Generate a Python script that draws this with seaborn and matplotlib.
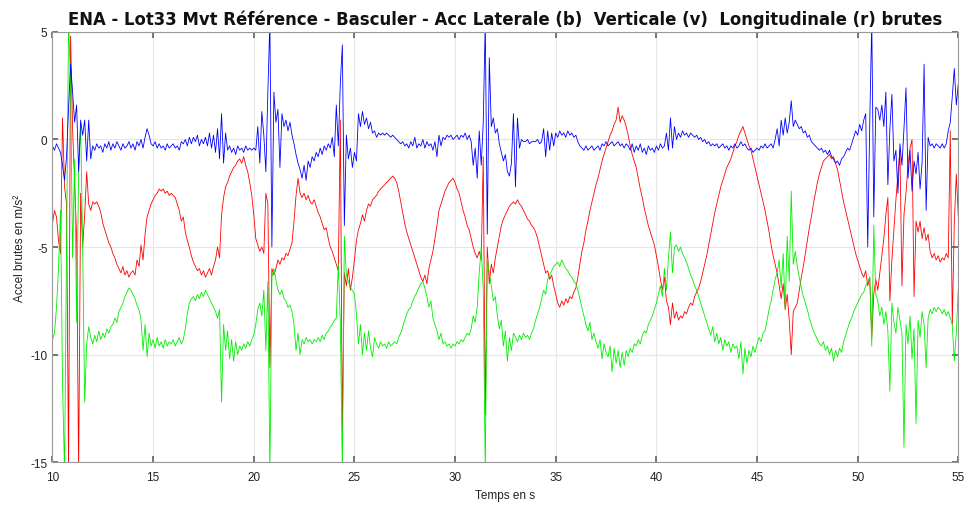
import numpy as np
import pandas as pd
import matplotlib
matplotlib.use("Agg")
import matplotlib.pyplot as plt
import seaborn as sns

# sample times (s), 0.1 s step from 10.0 to 55.0
temps = np.round(np.arange(100, 551) / 10.0, 1)

lateral_b = [
    -0.3, -0.5, -0.2, -0.4, -0.6, -1.2, -1.9, -0.8, 1.5, 3.5,
    2.2, 0.8, 1.6, -1.5, 0.9, 0.2, 0.9, -1.0, 0.9, -0.9,
    -0.3, -0.5, -0.2, -0.4, -0.3, -0.6, -0.2, -0.4, -0.1, -0.5,
    -0.2, -0.4, -0.1, -0.3, -0.5, -0.2, -0.4, -0.3, -0.1, -0.4,
    -0.2, -0.5, -0.1, -0.3, 0.0, -0.4, 0.1, 0.5, 0.2, -0.2,
    -0.3, -0.1, -0.4, -0.2, -0.4, -0.3, -0.5, -0.2, -0.4, -0.3,
    -0.2, -0.4, -0.3, -0.5, -0.1, -0.2, 0.0, -0.3, 0.1, -0.2,
    0.1, -0.1, 0.2, -0.3, 0.0, -0.2, 0.1, -0.3, 0.3, -0.4,
    0.2, -0.6, 0.5, -0.9, 1.2, -1.1, 0.3, -0.5, -0.3, -0.6,
    -0.4, -0.7, -0.3, -0.5, -0.4, -0.6, -0.3, -0.5, -0.4, -0.5,
    -0.4, -0.5, 0.6, -1.1, 1.3, 0.2, -1.5, 2.2, 5.5, -5.0,
    2.2, 0.8, 1.4, -1.3, 1.2, 0.6, 0.9, 0.4, 0.8, 0.2,
    -0.2, -0.7, -1.1, -1.4, -1.8, -1.2, -1.9, -1.0, -1.3, -0.8,
    -1.0, -0.6, -0.8, -0.4, -0.7, -0.3, -0.5, -0.2, -0.4, 0.1,
    -0.8, 1.6, -0.3, 2.6, 4.4, -4.0, 0.2, -0.9, -0.4, -1.3,
    -0.6, -1.0, 1.2, 0.6, 1.3, 0.7, 1.0, 0.5, 0.8, 0.3,
    0.4, 0.1, 0.3, 0.2, 0.3, 0.2, 0.3, 0.2, 0.1, 0.2,
    0.1, 0.0, -0.1, -0.2, -0.1, -0.3, -0.2, -0.4, -0.1, -0.3,
    0.1, -0.4, -0.2, -0.3, 0.0, -0.4, -0.1, -0.3, -0.2, -0.5,
    -0.1, -0.8, 0.2, -0.3, 0.1, 0.0, 0.2, 0.1, 0.2, 0.0,
    0.1, 0.2, 0.0, 0.2, 0.1, 0.3, 0.0, 0.2, -0.1, -1.2,
    -0.4, -1.8, 0.4, -1.2, 0.8, 5.5, -4.4, 3.8, 0.6, 1.0,
    0.3, 0.5, -0.2, -0.6, -1.0, -0.7, -1.5, -1.7, -1.1, 1.2,
    -2.2, 1.0, -0.4, 0.0, -0.1, -0.1, 0.0, -0.2, -0.1, -0.1,
    -0.1, 0.0, -0.2, -0.1, 0.5, -0.8, 0.4, -0.5, 0.3, -0.3,
    0.3, 0.1, 0.4, 0.2, 0.3, 0.1, 0.4, 0.2, 0.3, 0.1,
    0.2, -0.1, -0.3, -0.4, -0.5, -0.3, -0.5, -0.4, -0.3, -0.5,
    -0.4, -0.3, -0.5, -0.2, -0.3, -0.1, -0.3, -0.2, -0.1, -0.3,
    -0.2, -0.1, -0.3, -0.2, -0.4, -0.2, -0.3, -0.5, -0.2, -0.6,
    -0.3, -0.5, -0.2, -0.6, -0.4, -0.7, -0.3, -0.5, -0.4, -0.6,
    -0.3, -0.5, -0.2, -0.4, -0.3, 0.3, -0.5, 1.0, -0.4, 0.6,
    0.0, 0.3, 0.1, 0.4, 0.2, 0.3, 0.1, 0.3, 0.2, 0.1,
    0.2, 0.0, 0.1, -0.1, 0.0, -0.2, -0.1, -0.3, -0.2, -0.3,
    -0.2, -0.4, -0.3, -0.2, -0.4, -0.3, -0.5, -0.3, -0.4, -0.2,
    -0.4, -0.3, -0.1, -0.3, -0.2, -0.4, -0.5, -0.4, -0.6, -0.5,
    -0.4, -0.5, -0.3, -0.4, -0.2, -0.4, -0.3, -0.2, -0.4, 0.0,
    0.5, -0.3, 0.9, 0.2, 1.0, 0.3, 0.8, 1.8, 0.6, 0.9,
    0.7, 0.5, 0.6, 0.3, 0.4, 0.1, 0.2, -0.1, -0.2, -0.3,
    -0.4, -0.5, -0.4, -0.6, -0.5, -0.7, -0.5, -0.8, -0.9, -1.1,
    -1.0, -1.2, -0.9, -0.8, -0.6, -0.4, -0.5, -0.2, 0.1, 0.4,
    0.2, 0.7, 0.4, 0.9, 1.2, -5.0, 0.8, 5.5, -3.6, 1.5,
    1.4, 0.9, 1.6, 0.6, 2.2, -2.1, 0.5, 2.1, -1.0, -0.5,
    -2.5, -0.2, -1.2, 0.5, 2.4, -1.8, -0.5, -2.4, -1.0, -1.6,
    -0.6, -2.3, -1.1, 3.5, -3.3, 0.1, -0.3, -0.2, -0.4, -0.2,
    -0.3, -0.4, -0.2, -0.4, -0.2, 0.4, 0.8, 2.0, 3.3, 1.6,
    2.6,
]

longitudinale_r = [
    -3.9, -3.3, -3.6, -4.7, -5.3, 1.0, -2.2, -3.0, -15.5, 4.8,
    0.5, -2.0, -4.5, -15.5, -2.5, -5.0, -3.5, -1.5, -3.0, -3.3,
    -2.9, -3.0, -2.9, -3.1, -3.4, -3.9, -4.2, -4.5, -4.8, -5.0,
    -5.3, -5.5, -5.8, -6.0, -6.2, -5.9, -6.3, -6.1, -6.4, -6.2,
    -6.1, -6.3, -5.6, -5.9, -4.9, -5.6, -4.4, -3.6, -3.3, -3.0,
    -2.8, -2.6, -2.5, -2.3, -2.4, -2.3, -2.5, -2.4, -2.6, -2.5,
    -2.6, -2.7, -3.0, -3.3, -3.8, -3.6, -4.3, -4.7, -5.0, -5.4,
    -5.7, -5.9, -6.1, -6.0, -6.3, -6.1, -6.4, -6.2, -6.0, -6.3,
    -5.9, -5.6, -5.0, -5.5, -3.5, -2.7, -2.2, -2.0, -1.7, -1.5,
    -1.3, -1.2, -1.0, -0.9, -1.1, -0.8, -1.2, -1.5, -2.0, -2.6,
    -3.5, -4.6, -4.9, -5.2, -5.0, -5.3, -2.5, -3.0, -10.6, -6.0,
    -6.3, -6.0, -5.6, -5.8, -5.5, -5.6, -5.3, -5.4, -5.1, -4.8,
    -3.8, -2.6, -1.8, -2.5, -2.7, -2.5, -2.8, -2.6, -2.9, -3.0,
    -2.8, -3.1, -3.4, -3.6, -3.9, -4.2, -4.1, -4.6, -5.0, -5.2,
    -5.5, -5.8, -6.1, 0.9, -13.5, -6.2, -6.8, -6.0, -7.0, -6.4,
    -5.6, -4.7, -4.2, -3.9, -3.5, -3.8, -3.3, -3.0, -3.1, -2.8,
    -2.7, -2.6, -2.4, -2.3, -2.2, -2.1, -2.0, -1.9, -1.8, -1.7,
    -1.8, -2.0, -2.4, -2.9, -3.4, -3.9, -4.3, -4.6, -4.9, -5.2,
    -5.5, -5.8, -6.1, -6.4, -6.6, -6.3, -6.7, -6.0, -5.6, -5.2,
    -4.6, -4.0, -3.3, -3.0, -2.7, -2.4, -2.2, -2.0, -1.9, -1.8,
    -2.0, -2.3, -2.5, -2.9, -3.3, -3.6, -4.0, -4.2, -4.6, -5.0,
    -5.3, -5.5, -5.2, -5.6, -0.8, -12.8, -5.0, -6.7, -5.8, -6.2,
    -5.5, -5.0, -4.5, -4.0, -3.7, -3.5, -3.3, -3.1, -3.0, -2.9,
    -3.0, -2.8, -3.0, -3.1, -3.3, -3.5, -3.7, -3.8, -4.0, -4.1,
    -4.3, -4.6, -5.0, -5.4, -5.8, -6.2, -6.1, -6.5, -6.3, -6.8,
    -7.2, -7.6, -7.8, -7.5, -7.7, -7.4, -7.6, -7.3, -7.4, -7.1,
    -6.9, -6.4, -5.8, -5.2, -4.8, -4.2, -3.8, -3.3, -2.9, -2.5,
    -2.1, -1.8, -1.4, -1.0, -0.7, -0.4, -0.1, 0.2, 0.4, 0.7,
    0.9, 1.5, 0.8, 1.1, 0.9, 0.6, 0.2, -0.3, -0.7, -1.0,
    -1.3, -1.8, -2.3, -2.7, -3.2, -3.6, -4.0, -4.3, -4.6, -4.9,
    -5.4, -5.9, -6.5, -7.0, -6.4, -7.5, -7.8, -8.6, -7.6, -8.3,
    -8.0, -8.4, -8.2, -8.3, -8.0, -8.1, -7.8, -7.6, -7.7, -7.3,
    -7.1, -6.9, -6.6, -6.2, -5.8, -5.4, -4.9, -4.4, -3.9, -3.4,
    -3.0, -2.6, -2.2, -1.9, -1.6, -1.3, -1.1, -0.9, -0.6, -0.3,
    -0.1, 0.2, 0.4, 0.6, 0.3, 0.0, -0.3, -0.5, -0.9, -1.3,
    -1.7, -2.1, -2.5, -2.9, -3.3, -3.8, -4.3, -4.9, -5.4, -5.8,
    -6.2, -6.8, -7.4, -6.7, -7.9, -7.2, -8.4, -10.0, -8.0, -7.8,
    -7.6, -7.0, -6.4, -5.9, -5.3, -4.7, -4.1, -3.6, -3.0, -2.5,
    -2.0, -1.6, -1.3, -1.0, -0.9, -0.8, -0.7, -0.9, -0.8, -1.1,
    -1.4, -1.9, -2.4, -2.9, -3.3, -3.7, -4.1, -4.5, -4.9, -5.3,
    -5.6, -5.9, -6.2, -6.4, -6.1, -6.8, -6.4, -9.2, -7.2, -6.5,
    -7.0, -6.2, -5.4, -4.6, -3.5, -2.7, -7.5, -5.6, -4.2, -2.8,
    -1.6, -0.5, -6.8, -3.5, -2.5, -1.2, -0.4, 0.0, -7.3, -3.8,
    -4.3, -3.8, -4.6, -4.1, -4.7, -4.4, -5.2, -5.5, -5.3, -5.6,
    -5.4, -5.7, -5.5, -5.6, -5.3, -5.5, 0.4, -8.6, -3.9, -1.6,
    -3.6,
]

verticale_v = [
    -9.3, -9.0, -7.8, -6.0, -3.3, -11.3, -15.5, -5.0, 5.5, 2.6,
    -5.5, -0.9, -8.5, -1.5, 0.7, -5.0, -12.2, -9.5, -8.7, -9.2,
    -9.5, -9.1, -9.4, -8.9, -9.3, -9.0, -9.2, -8.8, -9.0, -8.7,
    -8.6, -8.3, -8.5, -8.0, -7.8, -7.6, -7.3, -7.1, -6.9, -7.0,
    -7.2, -7.4, -7.7, -7.9, -8.4, -9.8, -8.6, -10.1, -9.0, -9.6,
    -9.3, -9.7, -9.2, -9.6, -9.4, -9.7, -9.3, -9.6, -9.4, -9.5,
    -9.3, -9.6, -9.4, -9.2, -9.5, -9.3, -8.8, -8.1, -7.6, -7.4,
    -7.3, -7.5, -7.2, -7.4, -7.1, -7.3, -7.0, -7.2, -7.4, -7.6,
    -7.8, -8.0, -8.3, -7.9, -12.2, -8.6, -9.8, -8.9, -10.2, -9.3,
    -10.3, -9.4, -10.0, -9.6, -9.8, -9.5, -9.7, -9.4, -9.6, -9.3,
    -9.1, -8.6, -7.9, -7.6, -8.2, -7.0, -9.8, -6.6, -15.5, -6.4,
    -6.0, -6.5, -7.0, -7.2, -7.0, -7.4, -7.5, -7.8, -7.7, -8.0,
    -8.6, -9.8, -9.0, -10.0, -9.3, -9.5, -9.2, -9.4, -9.3, -9.5,
    -9.3, -9.4, -9.2, -9.4, -9.1, -9.3, -9.0, -8.9, -8.7, -8.6,
    -8.4, -8.3, -5.8, -8.5, -15.5, -4.5, -6.3, -6.6, -6.9, -7.0,
    -7.2, -8.1, -9.5, -8.6, -10.0, -9.0, -9.8, -8.9, -9.7, -10.1,
    -9.2, -9.5, -9.7, -9.4, -9.6, -9.5, -9.7, -9.4, -9.6, -9.5,
    -9.4, -9.5, -9.2, -9.0, -8.7, -8.4, -8.1, -7.9, -7.8, -7.5,
    -7.3, -7.1, -6.9, -6.7, -6.6, -6.9, -7.3, -7.8, -7.5, -8.3,
    -8.6, -8.9, -9.3, -9.0, -9.5, -9.4, -9.6, -9.5, -9.7, -9.5,
    -9.6, -9.4, -9.5, -9.3, -9.4, -9.2, -9.0, -9.1, -8.8, -8.2,
    -8.5, -7.8, -6.2, -5.0, -7.0, -15.5, -5.5, -6.2, -6.8, -7.5,
    -7.3, -8.2, -8.8, -8.4, -9.6, -8.9, -10.3, -9.2, -9.8, -9.0,
    -9.2, -9.4, -9.1, -9.3, -9.0, -9.2, -9.1, -9.3, -9.0, -8.8,
    -8.4, -8.1, -7.8, -7.4, -7.0, -7.2, -6.5, -6.3, -6.1, -5.9,
    -5.8, -5.7, -5.9, -5.6, -5.8, -6.0, -6.1, -6.3, -6.4, -6.6,
    -6.7, -7.0, -7.4, -7.8, -8.2, -8.6, -8.9, -8.5, -9.3, -9.0,
    -9.4, -9.7, -9.3, -10.2, -9.5, -9.9, -10.1, -9.6, -10.8, -9.7,
    -10.4, -9.8, -10.6, -9.9, -10.5, -9.8, -10.1, -9.7, -9.9, -9.5,
    -9.6, -9.3, -9.5, -9.1, -8.9, -9.0, -8.6, -8.4, -8.2, -7.9,
    -7.6, -7.2, -6.8, -7.3, -6.0, -7.0, -5.5, -4.3, -6.2, -5.0,
    -4.9, -5.2, -5.0, -5.3, -5.5, -5.7, -6.0, -6.3, -6.5, -6.8,
    -7.0, -7.3, -7.6, -7.9, -8.2, -8.5, -8.8, -9.1, -8.7, -9.4,
    -9.0, -9.5, -9.2, -9.8, -9.3, -9.6, -9.4, -9.9, -9.5, -9.7,
    -9.6, -10.2, -9.4, -10.9, -9.7, -10.4, -9.8, -10.1, -9.6, -9.9,
    -9.5, -9.2, -9.4, -9.0, -8.9, -8.4, -7.9, -7.5, -7.0, -6.5,
    -6.2, -5.6, -6.9, -5.3, -7.9, -4.5, -6.6, -2.4, -5.8, -5.2,
    -5.9, -6.4, -6.9, -7.3, -7.6, -7.9, -8.3, -8.6, -8.9, -9.1,
    -9.3, -9.5, -9.6, -9.4, -9.8, -9.6, -10.0, -9.7, -10.3, -9.8,
    -10.1, -9.7, -9.9, -9.4, -9.1, -8.8, -8.5, -8.3, -8.0, -7.8,
    -7.6, -7.4, -7.2, -7.1, -6.8, -6.6, -6.4, -9.6, -4.0, -7.2,
    -7.5, -8.2, -7.8, -8.6, -8.0, -8.9, -11.7, -7.6, -8.5, -9.0,
    -7.8, -8.4, -9.0, -14.3, -8.6, -9.5, -8.2, -10.2, -8.8, -13.2,
    -8.4, -9.2, -8.0, -8.6, -10.6, -8.3, -7.9, -8.1, -7.8, -8.0,
    -7.8, -7.9, -8.1, -7.9, -8.2, -8.0, -8.3, -8.6, -10.3, -9.0,
    -6.9,
]

x_ticks = [10, 15, 20, 25, 30, 35, 40, 45, 50, 55]
y_ticks = [-15, -10, -5, 0, 5]

n = min(len(temps), len(lateral_b), len(longitudinale_r), len(verticale_v))
df = pd.DataFrame({
    "t": temps[:n],
    "b": lateral_b[:n],
    "r": longitudinale_r[:n],
    "v": verticale_v[:n],
})

sns.set_theme(style="whitegrid")
plt.rcParams["font.family"] = ["Liberation Sans", "DejaVu Sans"]
plt.rcParams["axes.unicode_minus"] = False

fig = plt.figure(figsize=(9.68, 5.06), dpi=100)
ax = fig.add_axes([0.0542, 0.0845, 0.9358, 0.8505])

sns.lineplot(data=df, x="t", y="r", color="#ff0000", lw=0.6, ax=ax,
             estimator=None, sort=False)
sns.lineplot(data=df, x="t", y="v", color="#00ee00", lw=0.6, ax=ax,
             estimator=None, sort=False)
sns.lineplot(data=df, x="t", y="b", color="#0000ff", lw=0.6, ax=ax,
             estimator=None, sort=False)

ax.set_xlim(10, 55)
ax.set_ylim(-15, 5)
ax.set_xticks(x_ticks)
ax.set_yticks(y_ticks)
ax.grid(True, color="#e6e6e6", lw=0.8)
ax.set_facecolor("white")
for s in ax.spines.values():
    s.set_color("#999999")
    s.set_linewidth(0.8)
ax.tick_params(axis="both", which="both", direction="in", length=4,
               color="#666666", labelsize=8.5, labelcolor="#222222",
               top=True, right=True, bottom=True, left=True)
ax.tick_params(axis="x", pad=6.5)
ax.tick_params(axis="y", pad=3.5)
ax.set_xlabel("Temps en s", fontsize=8.5, color="#222222", labelpad=4)
ax.set_ylabel("Accel brutes en m/s²", fontsize=8.5, color="#222222", labelpad=3)
ax.set_title("ENA - Lot33 Mvt Référence - Basculer - Acc Laterale (b)  Verticale (v)  Longitudinale (r) brutes",
             fontsize=11.9, fontweight="bold", color="#111111", pad=6,
             family=["DejaVu Sans"])

fig.savefig("out.png", dpi=100)
